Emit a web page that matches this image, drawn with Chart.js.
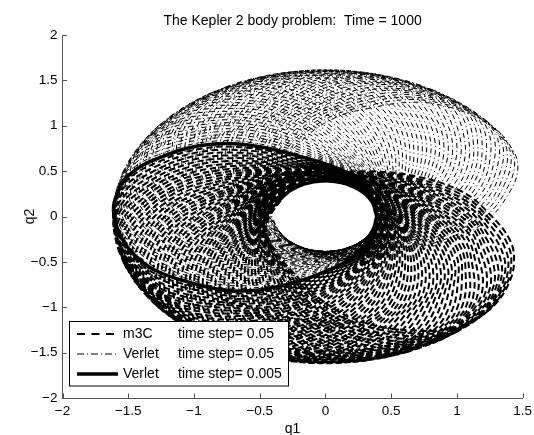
<!DOCTYPE html>
<html>
<head>
<meta charset="utf-8">
<script src="https://cdn.jsdelivr.net/npm/chart.js@4.4.0/dist/chart.umd.min.js"></script>
<style>
  html, body { margin: 0; padding: 0; background: #fff; }
</style>
</head>
<body>
<canvas id="keplerChart" width="534" height="435"></canvas>
<script>
  // legend text
  const chartTitle = 'The Kepler 2 body problem:  Time = 1000';
  const methodNames = ['m3C', 'Verlet', 'Verlet'];
  const stepNames = ['time step= 0.05', 'time step= 0.05', 'time step= 0.005'];

  // one revolution of the orbit (the thick Verlet 0.005 curve)
  const orbitQ1 = [0.39, 0.31, 0.11, -0.19, -0.55, -0.90, -1.24, -1.50, -1.60, -1.61, -1.57, -1.47, -1.30, -1.00, -0.70, -0.32, 0.01, 0.24, 0.36];
  const orbitQ2 = [0.00, 0.34, 0.52, 0.66, 0.78, 0.79, 0.66, 0.45, 0.19, 0.03, -0.18, -0.40, -0.59, -0.74, -0.82, -0.76, -0.60, -0.40, -0.15];

  // direction of the aphelion (degrees) of the successive revolutions of the two coarse runs
  const m3cApsis = [180, 182.5, 185, 187.5, 190, 192.5, 195, 197.5, 200, 202.5, 205, 207.5, 210, 212.5, 215, 217.5,
    220, 222.5, 225, 227.5, 230, 232.5, 235, 237.5, 240, 242.5, 245, 247.5, 250, 252.5, 255, 257.5,
    260, 262.5, 265, 267.5, 270, 272.5, 275, 277.5, 280, 282.5, 285, 287.5, 290, 292.5, 295, 297.5,
    300, 302.5, 305, 307.5, 310, 312.5, 315, 317.5, 320, 322.5, 325];
  const verletApsis = [180, 177.5, 175, 172.5, 170, 167.5, 165, 162.5, 160, 157.5, 155, 152.5, 150, 147.5, 145, 142.5,
    140, 137.5, 135, 132.5, 130, 127.5, 125, 122.5, 120, 117.5, 115, 112.5, 110, 107.5, 105, 102.5,
    100, 97.5, 95, 92.5, 90, 87.5, 85, 82.5, 80, 77.5, 75, 72.5, 70, 67.5, 65, 62.5,
    60, 57.5, 55, 52.5, 50, 47.5, 45, 42.5, 40, 37.5];
  const exactApsis = [180];

  const xTicks = [-2, -1.5, -1, -0.5, 0, 0.5, 1, 1.5];
  const yTicks = [-2, -1.5, -1, -0.5, 0, 0.5, 1, 1.5, 2];

  const FONT = 'Helvetica, "Liberation Sans", Arial, sans-serif';

  // the orbit turned about the focus (origin) for every revolution
  function revolutions(apsis) {
    const pts = [];
    apsis.forEach(a => {
      const t = (a - 180) * Math.PI / 180;
      const c = Math.cos(t), s = Math.sin(t);
      for (let i = 0; i <= orbitQ1.length; i++) {
        const k = i % orbitQ1.length;
        pts.push({ x: orbitQ1[k] * c - orbitQ2[k] * s, y: orbitQ1[k] * s + orbitQ2[k] * c });
      }
    });
    return pts;
  }

  function fmt(v) {
    return String(v).replace('-', '\u2212');
  }

  // title centred over the axes, ticks pointing inwards
  const axesDecor = {
    id: 'axesDecor',
    afterDraw(chart) {
      const { ctx, chartArea, scales } = chart;
      ctx.save();
      ctx.fillStyle = '#000';
      ctx.font = '14px ' + FONT;
      ctx.textAlign = 'center';
      ctx.textBaseline = 'middle';
      ctx.fillText(chartTitle, (chartArea.left + chartArea.right) / 2, 21);

      ctx.strokeStyle = '#555';
      ctx.lineWidth = 1;
      ctx.beginPath();
      xTicks.forEach(v => {
        const px = Math.round(scales.x.getPixelForValue(v)) + 0.5;
        ctx.moveTo(px, chartArea.bottom);
        ctx.lineTo(px, chartArea.bottom - 4.5);
      });
      yTicks.forEach(v => {
        const py = Math.round(scales.y.getPixelForValue(v)) + 0.5;
        ctx.moveTo(chartArea.left, py);
        ctx.lineTo(chartArea.left + 4.5, py);
      });
      ctx.stroke();
      ctx.restore();
    }
  };

  const boxLegend = {
    id: 'boxLegend',
    afterDraw(chart) {
      const ctx = chart.ctx;
      const box = { x: 69.5, y: 321.5, w: 219, h: 64.5 };
      ctx.save();
      ctx.fillStyle = '#fff';
      ctx.fillRect(box.x, box.y, box.w, box.h);
      ctx.strokeStyle = '#000';
      ctx.lineWidth = 1;
      ctx.strokeRect(box.x, box.y, box.w, box.h);
      const rows = [334, 354, 374];
      ctx.font = '14px ' + FONT;
      ctx.textBaseline = 'middle';
      ctx.fillStyle = '#000';
      chart.data.datasets.forEach((ds, r) => {
        ctx.beginPath();
        ctx.setLineDash(ds.legendDash || []);
        ctx.lineWidth = ds.borderWidth;
        ctx.strokeStyle = ds.borderColor;
        ctx.moveTo(77, rows[r]);
        ctx.lineTo(118, rows[r]);
        ctx.stroke();
        ctx.setLineDash([]);
        ctx.fillText(methodNames[r], 123, rows[r] + 0.5);
        ctx.fillText(stepNames[r], 178, rows[r] + 0.5);
      });
      ctx.restore();
    }
  };

  new Chart(document.getElementById('keplerChart'), {
    type: 'scatter',
    data: {
      datasets: [
        {
          label: methodNames[0] + ' ' + stepNames[0],
          data: revolutions(m3cApsis),
          showLine: true,
          borderColor: '#000',
          borderWidth: 2,
          borderDash: [6.5, 3.5],
          legendDash: [8, 6.5],
          tension: 0.4,
          pointRadius: 0,
          order: 3
        },
        {
          label: methodNames[1] + ' ' + stepNames[1],
          data: revolutions(verletApsis),
          showLine: true,
          borderColor: '#000',
          borderWidth: 1,
          borderDash: [5, 3, 1, 3],
          legendDash: [7, 3, 1, 3],
          tension: 0.4,
          pointRadius: 0,
          order: 2
        },
        {
          label: methodNames[2] + ' ' + stepNames[2],
          data: revolutions(exactApsis),
          showLine: true,
          borderColor: '#000',
          borderWidth: 3.5,
          tension: 0.4,
          pointRadius: 0,
          order: 1
        }
      ]
    },
    options: {
      responsive: false,
      animation: false,
      devicePixelRatio: 1,
      layout: { padding: { left: 0, right: 11.3, top: 35, bottom: 0 } },
      plugins: {
        legend: { display: false },
        tooltip: { enabled: false },
        title: { display: false }
      },
      scales: {
        x: {
          type: 'linear',
          min: -2,
          max: 1.5,
          afterBuildTicks: s => { s.ticks = xTicks.map(v => ({ value: v })); },
          afterFit: s => { s.height = 37; s.paddingRight = 0; s.paddingLeft = 0; },
          grid: { display: false, drawTicks: false },
          border: { display: true, color: '#555', width: 1 },
          ticks: {
            callback: fmt,
            color: '#000',
            padding: 5,
            maxRotation: 0,
            autoSkip: false,
            font: { family: FONT, size: 13.5 }
          },
          title: {
            display: true,
            text: 'q1',
            color: '#000',
            font: { family: FONT, size: 14, lineHeight: 0.9 },
            padding: { top: 0, bottom: 0 }
          }
        },
        y: {
          type: 'linear',
          min: -2,
          max: 2,
          afterBuildTicks: s => { s.ticks = yTicks.map(v => ({ value: v })); },
          afterFit: s => { s.width = 62.5; s.paddingTop = 0; s.paddingBottom = 0; },
          grid: { display: false, drawTicks: false },
          border: { display: true, color: '#555', width: 1 },
          ticks: {
            callback: fmt,
            color: '#000',
            padding: 5,
            autoSkip: false,
            font: { family: FONT, size: 13.5 }
          },
          title: {
            display: true,
            text: 'q2',
            color: '#000',
            font: { family: FONT, size: 14 },
            padding: { top: 21.6, bottom: 0 }
          }
        }
      }
    },
    plugins: [axesDecor, boxLegend]
  });
</script>
</body>
</html>
